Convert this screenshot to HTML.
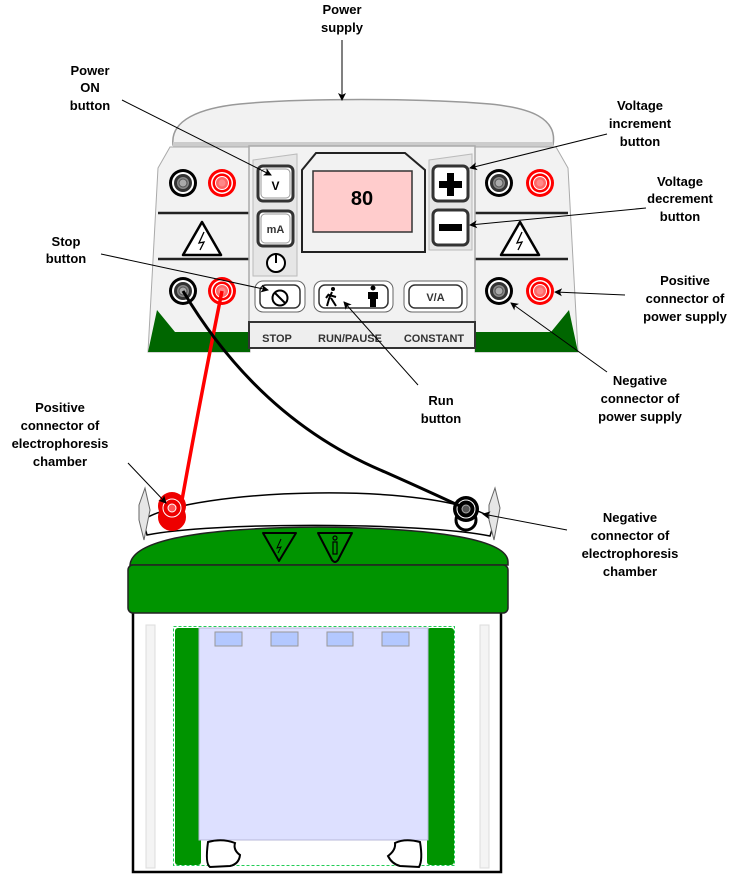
<!DOCTYPE html>
<html><head><meta charset="utf-8"><style>
html,body{margin:0;padding:0;background:#fff;}
svg{display:block;}
text{font-family:"Liberation Sans",Arial,sans-serif;}
.lb{font-size:13px;font-weight:bold;text-anchor:middle;fill:#000;}
</style></head><body>
<svg width="735" height="887" viewBox="0 0 735 887" xmlns="http://www.w3.org/2000/svg">
<defs>
<marker id="ar" markerWidth="8" markerHeight="8" refX="7" refY="4" orient="auto" markerUnits="userSpaceOnUse"><path d="M0,0 L8,4 L0,8 L2,4 z" fill="#000"/></marker>
<g id="bjack"><circle r="14" fill="#000"/><circle r="11" fill="#fff"/><circle r="9" fill="#333"/><circle r="6" fill="#888"/><circle r="4" fill="#aaa" stroke="#555" stroke-width="1"/></g>
<g id="rjack"><circle r="14" fill="#f00"/><circle r="11" fill="#fff"/><circle r="9.5" fill="#f00"/><circle r="6.5" fill="#f66" stroke="#fff" stroke-width="1"/><circle r="3.5" fill="#f88"/></g>
<g id="warn"><path d="M0,-18 L19,15 L-19,15 z" fill="#fff" stroke="#000" stroke-width="2.5" stroke-linejoin="round"/><path d="M2,-8 L-3,3 L2,2 L-2,10" fill="none" stroke="#000" stroke-width="1.3"/></g>
</defs>

<!-- power supply -->
<path d="M173,145 C170,120 200,108 240,104 C300,98 420,98 490,104 C530,108 558,118 553,145 z" fill="#f2f2f2" stroke="#999" stroke-width="1.5"/>
<rect x="173" y="142" width="380" height="6" fill="#ccc"/>
<!-- side panels -->
<path d="M148,352 L158,168 L170,147 L250,147 L250,352 z" fill="#f2f2f2" stroke="#aaa" stroke-width="1"/>
<path d="M578,352 L568,168 L556,147 L475,147 L475,352 z" fill="#f2f2f2" stroke="#aaa" stroke-width="1"/>
<path d="M148,352 L157,310 L175,332 L250,332 L250,352 z" fill="#006600"/>
<path d="M578,352 L569,310 L551,332 L475,332 L475,352 z" fill="#006600"/>
<line x1="158" y1="213" x2="250" y2="213" stroke="#222" stroke-width="2.5"/>
<line x1="158" y1="259" x2="250" y2="259" stroke="#222" stroke-width="2.5"/>
<line x1="475" y1="213" x2="568" y2="213" stroke="#222" stroke-width="2.5"/>
<line x1="475" y1="259" x2="568" y2="259" stroke="#222" stroke-width="2.5"/>
<use href="#bjack" x="183" y="183"/><use href="#rjack" x="222" y="183"/>
<use href="#bjack" x="183" y="291"/><use href="#rjack" x="222" y="291"/>
<use href="#bjack" x="499" y="183"/><use href="#rjack" x="540" y="183"/>
<use href="#bjack" x="499" y="291"/><use href="#rjack" x="540" y="291"/>
<use href="#warn" x="202" y="240"/><use href="#warn" x="520" y="240"/>
<!-- center panel -->
<rect x="249" y="146" width="226" height="178" fill="#f2f2f2" stroke="#aaa" stroke-width="1.5"/>
<rect x="249" y="322" width="226" height="26" fill="#eee" stroke="#333" stroke-width="2"/>
<text x="277" y="342" font-size="11" font-weight="bold" fill="#333" text-anchor="middle">STOP</text>
<text x="350" y="342" font-size="11" font-weight="bold" fill="#333" text-anchor="middle">RUN/PAUSE</text>
<text x="434" y="342" font-size="11" font-weight="bold" fill="#333" text-anchor="middle">CONSTANT</text>
<!-- left column -->
<path d="M253,160 L297,154 L297,276 L253,276 z" fill="#e6e6e6" stroke="#bbb" stroke-width="1"/>
<rect x="258" y="166" width="35" height="35" rx="5" fill="#fff" stroke="#333" stroke-width="3"/>
<rect x="261" y="169" width="29" height="29" rx="4" fill="#fff" stroke="#999" stroke-width="1"/>
<text x="275.5" y="190" font-size="12" font-weight="bold" text-anchor="middle">V</text>
<rect x="258" y="211" width="35" height="35" rx="5" fill="#fff" stroke="#333" stroke-width="3"/>
<rect x="261" y="214" width="29" height="29" rx="4" fill="#fff" stroke="#999" stroke-width="1"/>
<text x="275.5" y="233" font-size="11" font-weight="bold" text-anchor="middle" fill="#333">mA</text>
<circle cx="276" cy="263" r="9" fill="#fff" stroke="#000" stroke-width="2"/>
<line x1="276" y1="253" x2="276" y2="263" stroke="#000" stroke-width="2"/>
<!-- display -->
<path d="M302,170 L316,153 L405,153 L425,170 L425,252 L302,252 z" fill="#f2f2f2" stroke="#222" stroke-width="2"/>
<rect x="313" y="171" width="99" height="61" fill="#fcc" stroke="#333" stroke-width="1.5"/>
<text x="362" y="205" font-size="20" font-weight="bold" text-anchor="middle">80</text>
<!-- right column -->
<path d="M429,160 L472,154 L472,250 L429,250 z" fill="#e6e6e6" stroke="#bbb" stroke-width="1"/>
<rect x="433" y="166" width="35" height="35" rx="5" fill="#fff" stroke="#333" stroke-width="3"/>
<path d="M447,173 h7 v8 h8 v7 h-8 v8 h-7 v-8 h-8 v-7 h8 z" fill="#000"/>
<rect x="433" y="210" width="35" height="35" rx="5" fill="#fff" stroke="#333" stroke-width="3"/>
<rect x="439" y="224" width="23" height="7" fill="#000"/>
<!-- bottom buttons -->
<rect x="255" y="281" width="50" height="31" rx="8" fill="#fff" stroke="#666" stroke-width="1"/>
<rect x="260" y="285" width="40" height="23" rx="6" fill="#fff" stroke="#333" stroke-width="1.5"/>
<circle cx="280" cy="298" r="7.5" fill="none" stroke="#000" stroke-width="2"/>
<line x1="275" y1="293" x2="285" y2="303" stroke="#000" stroke-width="2"/>
<rect x="314" y="281" width="79" height="31" rx="8" fill="#fff" stroke="#666" stroke-width="1"/>
<rect x="319" y="285" width="69" height="23" rx="6" fill="#fff" stroke="#333" stroke-width="1.5"/>
<circle cx="333" cy="289" r="2" fill="#000"/>
<path d="M332,292 L329,299 L327,306 M331,298 L336,306 M329,295 L336,297 M329,294 L326,298" stroke="#000" stroke-width="2" fill="none"/>
<circle cx="373" cy="288" r="2.5" fill="#000"/>
<path d="M368,292 h10 v7 h-2 v8 h-6 v-8 h-2 z" fill="#000"/>
<rect x="404" y="281" width="63" height="31" rx="8" fill="#fff" stroke="#666" stroke-width="1"/>
<rect x="409" y="285" width="53" height="23" rx="6" fill="#fff" stroke="#333" stroke-width="1.5"/>
<text x="435.5" y="301" font-size="11" font-weight="bold" text-anchor="middle" fill="#333">V/A</text>

<!-- chamber -->
<rect x="133" y="612" width="368" height="260" fill="#fff" stroke="#000" stroke-width="2.5"/>
<rect x="146" y="625" width="9" height="243" fill="#f4f4f4" stroke="#ddd" stroke-width="1"/>
<rect x="480" y="625" width="9" height="243" fill="#f4f4f4" stroke="#ddd" stroke-width="1"/>
<rect x="173.5" y="626.5" width="281" height="239" fill="none" stroke="#2c5" stroke-width="1" stroke-dasharray="3,2"/>
<rect x="175" y="628" width="26" height="237" rx="3" fill="#009400"/>
<rect x="427" y="628" width="27" height="237" rx="3" fill="#009400"/>
<rect x="199" y="628" width="229" height="212" fill="#dde0ff" stroke="#b8b8d8" stroke-width="1"/>
<rect x="215" y="632" width="27" height="14" fill="#b3c8ff" stroke="#999"/>
<rect x="271" y="632" width="27" height="14" fill="#b3c8ff" stroke="#999"/>
<rect x="327" y="632" width="26" height="14" fill="#b3c8ff" stroke="#999"/>
<rect x="382" y="632" width="27" height="14" fill="#b3c8ff" stroke="#999"/>
<path d="M208,842 Q222,838 235,843 Q233,850 240,855 Q239,864 230,866 L210,867 Q205,864 208,842 z" fill="#fff" stroke="#000" stroke-width="2"/>
<path d="M420,842 Q405,838 395,843 Q396,850 388,856 Q392,864 400,866 L419,867 Q423,860 420,842 z" fill="#fff" stroke="#000" stroke-width="2"/>
<!-- lid -->
<path d="M143,520 C190,488 440,480 495,520 L490,536 C420,522 210,522 147,535 z" fill="#fff" stroke="#000" stroke-width="1.5"/>
<path d="M139,505 L145,488 L150,510 L144,540 L139,520 z" fill="#e6e6e6" stroke="#666" stroke-width="1"/>
<path d="M489,505 L495,488 L500,508 L494,540 L489,520 z" fill="#e6e6e6" stroke="#666" stroke-width="1"/>
<path d="M130,565 C132,540 200,528 318,527 C440,528 508,540 508,562 L508,565 z" fill="#009400" stroke="#222" stroke-width="1.5"/>
<rect x="128" y="565" width="380" height="48" rx="5" fill="#009400" stroke="#222" stroke-width="1.5"/>
<path d="M263,533 L296,533 L279,561 z" fill="none" stroke="#000" stroke-width="2" stroke-linejoin="round"/>
<path d="M281,539 L277,548 L281,547 L278,553" fill="none" stroke="#000" stroke-width="1"/>
<path d="M318,533 L352,533 L338,560 Q335,564 332,560 z" fill="none" stroke="#000" stroke-width="2" stroke-linejoin="round"/>
<circle cx="335" cy="538" r="2" fill="none" stroke="#000" stroke-width="1.2"/>
<rect x="333" y="542" width="4" height="12" fill="none" stroke="#000" stroke-width="1.2"/>
<!-- chamber connectors -->
<g fill="none" stroke="#e00" stroke-width="4"><circle cx="172" cy="517" r="12" fill="#e00"/><circle cx="172" cy="506" r="14" fill="#e00" stroke="none"/></g>
<circle cx="172" cy="508" r="9" fill="none" stroke="#fff" stroke-width="1"/>
<circle cx="172" cy="508" r="4" fill="#f55" stroke="#fff" stroke-width="1"/>
<circle cx="466" cy="520" r="10" fill="none" stroke="#000" stroke-width="3"/>
<circle cx="466" cy="509" r="13" fill="#000"/>
<circle cx="466" cy="509" r="9" fill="none" stroke="#fff" stroke-width="1"/>
<circle cx="466" cy="509" r="4" fill="#555" stroke="#aaa" stroke-width="1"/>
<!-- wires -->
<path d="M222,291 Q200,400 182,500" fill="none" stroke="#f00" stroke-width="3.5"/>
<path d="M183,291 Q260,420 385,472 Q430,492 462,507" fill="none" stroke="#000" stroke-width="3"/>

<!-- labels & arrows -->
<text class="lb" x="342" y="14">Power</text><text class="lb" x="342" y="32">supply</text>
<line x1="342" y1="40" x2="342" y2="100" stroke="#000" stroke-width="1" marker-end="url(#ar)"/>
<text class="lb" x="90" y="75">Power</text><text class="lb" x="90" y="92">ON</text><text class="lb" x="90" y="110">button</text>
<line x1="122" y1="100" x2="271" y2="175" stroke="#000" stroke-width="1" marker-end="url(#ar)"/>
<text class="lb" x="640" y="110">Voltage</text><text class="lb" x="640" y="128">increment</text><text class="lb" x="640" y="146">button</text>
<line x1="607" y1="134" x2="470" y2="168" stroke="#000" stroke-width="1" marker-end="url(#ar)"/>
<text class="lb" x="680" y="186">Voltage</text><text class="lb" x="680" y="203">decrement</text><text class="lb" x="680" y="221">button</text>
<line x1="646" y1="208" x2="470" y2="225" stroke="#000" stroke-width="1" marker-end="url(#ar)"/>
<text class="lb" x="66" y="246">Stop</text><text class="lb" x="66" y="263">button</text>
<line x1="101" y1="254" x2="268" y2="290" stroke="#000" stroke-width="1" marker-end="url(#ar)"/>
<text class="lb" x="685" y="285">Positive</text><text class="lb" x="685" y="303">connector of</text><text class="lb" x="685" y="321">power supply</text>
<line x1="625" y1="295" x2="555" y2="292" stroke="#000" stroke-width="1" marker-end="url(#ar)"/>
<text class="lb" x="441" y="405">Run</text><text class="lb" x="441" y="423">button</text>
<line x1="418" y1="385" x2="344" y2="302" stroke="#000" stroke-width="1" marker-end="url(#ar)"/>
<text class="lb" x="640" y="385">Negative</text><text class="lb" x="640" y="403">connector of</text><text class="lb" x="640" y="421">power supply</text>
<line x1="607" y1="372" x2="511" y2="303" stroke="#000" stroke-width="1" marker-end="url(#ar)"/>
<text class="lb" x="60" y="412">Positive</text><text class="lb" x="60" y="430">connector of</text><text class="lb" x="60" y="448">electrophoresis</text><text class="lb" x="60" y="466">chamber</text>
<line x1="128" y1="463" x2="166" y2="503" stroke="#000" stroke-width="1" marker-end="url(#ar)"/>
<text class="lb" x="630" y="522">Negative</text><text class="lb" x="630" y="540">connector of</text><text class="lb" x="630" y="558">electrophoresis</text><text class="lb" x="630" y="576">chamber</text>
<line x1="567" y1="530" x2="483" y2="514" stroke="#000" stroke-width="1" marker-end="url(#ar)"/>
</svg>
</body></html>
